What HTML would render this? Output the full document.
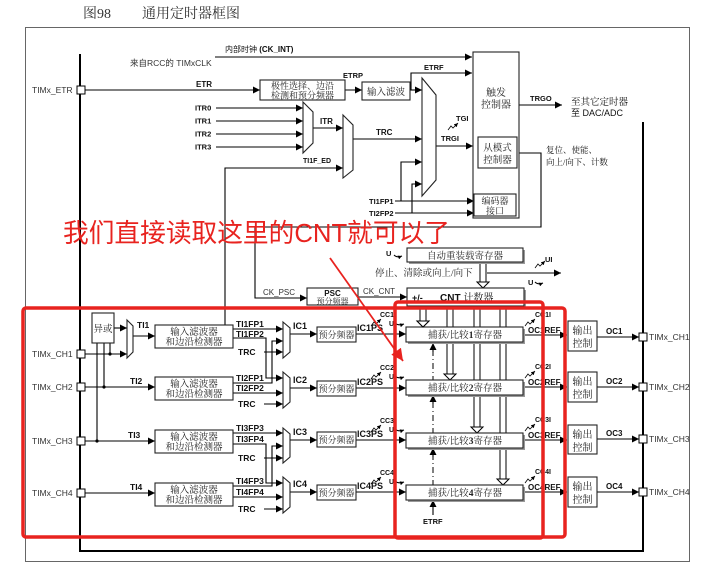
<!DOCTYPE html>
<html><head><meta charset="utf-8">
<style>
html,body{margin:0;padding:0;background:#fff;}
svg{display:block}
svg text{font-family:"Liberation Sans","Noto Sans CJK SC",sans-serif;fill:#111}
.b{font-weight:bold;font-size:8px}
.b9{font-weight:bold;font-size:9px}
.r{font-size:8.5px;fill:#333}
.c{font-family:"Liberation Serif","Noto Serif CJK SC",serif;font-size:9.5px;text-anchor:middle;fill:#222}
.l{stroke:#000;stroke-width:1.1;fill:none}
.box{stroke:#222;stroke-width:1.1;fill:#fff}
</style></head>
<body>
<svg width="717" height="567" viewBox="0 0 717 567" xmlns="http://www.w3.org/2000/svg">
<defs>
<marker id="ah" viewBox="0 0 8 8" refX="8" refY="4" markerWidth="7" markerHeight="7" markerUnits="userSpaceOnUse" orient="auto"><path d="M0,0L8,4L0,8z" fill="#000"/></marker>
<marker id="sm" viewBox="0 0 8 8" refX="8" refY="4" markerWidth="4" markerHeight="4" markerUnits="userSpaceOnUse" orient="auto"><path d="M0,0L8,4L0,8z" fill="#000"/></marker>
<marker id="rh" viewBox="0 0 10 10" refX="10" refY="5" markerWidth="12" markerHeight="12" markerUnits="userSpaceOnUse" orient="auto"><path d="M0,0L10,5L0,10z" fill="#e8231f"/></marker>
<path id="sq" d="M0,0 L3,-4 L5,-2 L10,-7" fill="none" stroke="#000" stroke-width="0.8" marker-end="url(#sm)"/>
</defs>
<rect width="717" height="567" fill="#fff"/>

<!-- title -->
<text x="83" y="18" font-size="14" style="font-family:'Liberation Serif','Noto Serif CJK SC',serif;fill:#333">图98</text>
<text x="142" y="18" font-size="14" style="font-family:'Liberation Serif','Noto Serif CJK SC',serif;fill:#333">通用定时器框图</text>

<!-- frame -->
<rect x="25.5" y="27.5" width="664" height="534" fill="none" stroke="#666" stroke-width="1"/>
<polyline points="80,54 80,551 643,551 643,122" fill="none" stroke="#000" stroke-width="2"/>

<!-- hollow shafts (drawn before registers) -->
<g stroke="#000" stroke-width="1" fill="#fff">
<rect x="420" y="306" width="6" height="16"/><polygon points="417,321 429,321 423,327"/>
<rect x="447" y="306" width="6" height="69"/><polygon points="444,374 456,374 450,380"/>
<rect x="474" y="306" width="6" height="122"/><polygon points="471,427 483,427 477,433"/>
<rect x="500" y="306" width="6" height="174"/><polygon points="497,479 509,479 503,485"/>
<rect x="480" y="262" width="6" height="21"/><polygon points="477,282 489,282 483,288"/>
</g>
<line x1="433" y1="350" x2="433" y2="485" stroke="#000" stroke-width="1" stroke-dasharray="6,3,1,3"/>

<!-- lines with arrows -->
<g class="l" marker-end="url(#ah)">
<line x1="215" y1="57" x2="472" y2="57"/>
<line x1="85" y1="90" x2="260" y2="90"/>
<line x1="345" y1="90" x2="362" y2="90"/>
<polyline points="411,90 411,73 472,73"/>
<line x1="410" y1="90" x2="422" y2="90"/>
<line x1="216" y1="108" x2="303" y2="108"/>
<line x1="216" y1="121" x2="303" y2="121"/>
<line x1="216" y1="134" x2="303" y2="134"/>
<line x1="216" y1="147" x2="303" y2="147"/>
<line x1="313" y1="128" x2="343" y2="128"/>
<polyline points="225,325 225,168 343,168"/>
<line x1="353" y1="139" x2="422" y2="139"/>
<polyline points="401,201 401,162 422,162"/>
<polyline points="412,213 412,184 422,184"/>
<line x1="395" y1="201" x2="474" y2="201"/>
<line x1="395" y1="213" x2="474" y2="213"/>
<line x1="436" y1="146" x2="473" y2="146"/>
<line x1="519" y1="105" x2="562" y2="105"/>
<polyline points="517,153 541,153 541,227 255,227 255,298 307,298"/>
<line x1="358" y1="297" x2="407" y2="297"/>
<line x1="487" y1="273" x2="561" y2="273"/>

<!-- channels input -->
<line x1="114" y1="328" x2="127" y2="328"/>
<line x1="85" y1="354" x2="127" y2="354"/>
<line x1="133" y1="336" x2="155" y2="336"/>
<line x1="85" y1="387" x2="155" y2="387"/>
<line x1="85" y1="441" x2="155" y2="441"/>
<line x1="85" y1="493" x2="155" y2="493"/>

<line x1="233" y1="329" x2="283" y2="329"/>
<polyline points="233,338 266,338 266,378 283,378"/>
<polyline points="233,383 272,383 272,341 283,341"/>
<line x1="233" y1="393" x2="283" y2="393"/>
<line x1="264" y1="352" x2="283" y2="352"/>
<line x1="264" y1="404" x2="283" y2="404"/>

<line x1="233" y1="433" x2="283" y2="433"/>
<polyline points="233,444 266,444 266,483 283,483"/>
<polyline points="233,486 272,486 272,446 283,446"/>
<line x1="233" y1="497" x2="283" y2="497"/>
<line x1="264" y1="458" x2="283" y2="458"/>
<line x1="264" y1="509" x2="283" y2="509"/>

<line x1="290" y1="334" x2="317" y2="334"/>
<line x1="290" y1="388" x2="317" y2="388"/>
<line x1="290" y1="440" x2="317" y2="440"/>
<line x1="290" y1="492" x2="317" y2="492"/>

<line x1="356" y1="334" x2="406" y2="334"/>
<line x1="356" y1="388" x2="406" y2="388"/>
<line x1="356" y1="440" x2="406" y2="440"/>
<line x1="356" y1="492" x2="406" y2="492"/>

<line x1="523" y1="335" x2="567" y2="335"/>
<line x1="523" y1="387" x2="567" y2="387"/>
<line x1="523" y1="440" x2="567" y2="440"/>
<line x1="523" y1="492" x2="567" y2="492"/>

<line x1="597" y1="337" x2="639" y2="337"/>
<line x1="597" y1="387" x2="639" y2="387"/>
<line x1="597" y1="439" x2="639" y2="439"/>
<line x1="597" y1="492" x2="639" y2="492"/>

<line x1="433" y1="352" x2="433" y2="343"/>
<line x1="433" y1="404" x2="433" y2="395"/>
<line x1="433" y1="457" x2="433" y2="448"/>
<line x1="433" y1="515" x2="433" y2="500"/>
</g>

<!-- plain lines -->
<g class="l">
<line x1="97" y1="343" x2="97" y2="441"/>
<line x1="104" y1="343" x2="104" y2="387"/>
<line x1="110" y1="343" x2="110" y2="354"/>
</g>
<g fill="#000"><circle cx="97" cy="441" r="1.6"/><circle cx="104" cy="387" r="1.6"/><circle cx="110" cy="354" r="1.6"/></g>

<!-- muxes -->
<g class="box">
<polygon points="422,78 436,95 436,180 422,196"/>
<polygon points="303,102 313,112 313,143 303,153"/>
<polygon points="343,115 353,125 353,170 343,178"/>
<polygon points="127,320 133,326 133,352 127,358"/>
<polygon points="283,322 290,328 290,352 283,358"/>
<polygon points="283,372 290,378 290,402 283,408"/>
<polygon points="283,428 290,434 290,457 283,463"/>
<polygon points="283,477 290,483 290,507 283,513"/>
</g>

<!-- boxes -->
<g class="box">
<rect x="260" y="80" width="85" height="20"/>
<rect x="362" y="82" width="48" height="18"/>
<rect x="473" y="52" width="46" height="166"/>
<rect x="478" y="137" width="39" height="31"/>
<rect x="474" y="194" width="42" height="22"/>
<rect x="307" y="288" width="51" height="17"/>
<rect x="92" y="313" width="22" height="30"/>
<rect x="155" y="325" width="78" height="23"/>
<rect x="155" y="377" width="78" height="23"/>
<rect x="155" y="430" width="78" height="23"/>
<rect x="155" y="483" width="78" height="23"/>
<rect x="317" y="327" width="39" height="15"/>
<rect x="317" y="381" width="39" height="15"/>
<rect x="317" y="432" width="39" height="15"/>
<rect x="317" y="485" width="39" height="15"/>
<rect x="568" y="321" width="29" height="30"/>
<rect x="568" y="372" width="29" height="30"/>
<rect x="568" y="425" width="29" height="29"/>
<rect x="568" y="477" width="29" height="30"/>
</g>
<!-- shadowed boxes -->
<g fill="#999">
<rect x="409" y="250" width="116" height="14"/>
<rect x="409" y="290" width="117" height="18"/>
<rect x="408" y="329" width="117" height="15"/>
<rect x="408" y="382" width="117" height="15"/>
<rect x="408" y="435" width="117" height="15"/>
<rect x="408" y="487" width="117" height="15"/>
</g>
<g class="box">
<rect x="407" y="248" width="116" height="14"/>
<rect x="407" y="288" width="117" height="18"/>
<rect x="406" y="327" width="117" height="15"/>
<rect x="406" y="380" width="117" height="15"/>
<rect x="406" y="433" width="117" height="15"/>
<rect x="406" y="485" width="117" height="15"/>
</g>
<!-- re-draw shafts inside gap below CNT so they appear on top of CNT shadow -->
<g stroke="#000" stroke-width="1" fill="#fff">
<rect x="420" y="307" width="6" height="14"/><polygon points="417,321 429,321 423,327"/>
</g>

<!-- pins -->
<g fill="#fff" stroke="#000" stroke-width="1">
<rect x="77" y="86" width="8" height="8"/>
<rect x="77" y="350" width="8" height="8"/>
<rect x="77" y="383" width="8" height="8"/>
<rect x="77" y="437" width="8" height="8"/>
<rect x="77" y="489" width="8" height="8"/>
<rect x="639" y="333" width="8" height="8"/>
<rect x="639" y="383" width="8" height="8"/>
<rect x="639" y="435" width="8" height="8"/>
<rect x="639" y="488" width="8" height="8"/>
</g>

<!-- squiggles -->
<use href="#sq" x="448" y="130"/>
<use href="#sq" x="535" y="268"/>
<use href="#sq" x="371" y="326"/>
<use href="#sq" x="371" y="379"/>
<use href="#sq" x="371" y="432"/>
<use href="#sq" x="371" y="484"/>
<use href="#sq" x="525" y="326"/>
<use href="#sq" x="525" y="378"/>
<use href="#sq" x="525" y="431"/>
<use href="#sq" x="525" y="483"/>
<g class="l" stroke-width="0.8" marker-end="url(#sm)">
<path d="M394,255 q3,3 8,1"/>
<path d="M535,282 q3,3 8,1"/>
<path d="M395,323 q3,3 9,1"/>
<path d="M395,376 q3,3 9,1"/>
<path d="M395,429 q3,3 9,1"/>
<path d="M395,481 q3,3 9,1"/>
</g>

<!-- labels top -->
<text x="32" y="93" class="r">TIMx_ETR</text>
<text x="225" y="52" style="font-size:8px">内部时钟 <tspan font-weight="bold">(CK_INT)</tspan></text>
<text x="130" y="66" style="font-size:8.5px;fill:#333">来自RCC的 TIMxCLK</text>
<text x="196" y="87" class="b">ETR</text>
<text x="302.5" y="89" class="c" style="font-size:9px">极性选择、边沿</text>
<text x="302.5" y="98.5" class="c" style="font-size:9px">检测和预分频器</text>
<text x="343" y="78" class="b" style="font-size:7.5px">ETRP</text>
<text x="386" y="95" class="c">输入滤波</text>
<text x="424" y="70" class="b" style="font-size:7.5px">ETRF</text>
<text x="195" y="110.5" class="b" style="font-size:7.5px">ITR0</text>
<text x="195" y="123.5" class="b" style="font-size:7.5px">ITR1</text>
<text x="195" y="136.5" class="b" style="font-size:7.5px">ITR2</text>
<text x="195" y="149.5" class="b" style="font-size:7.5px">ITR3</text>
<text x="320" y="124" class="b">ITR</text>
<text x="303" y="163" class="b" style="font-size:7px">TI1F_ED</text>
<text x="376" y="135" class="b">TRC</text>
<text x="441" y="141" class="b" style="font-size:7.5px">TRGI</text>
<text x="456" y="121" class="b" style="font-size:7.5px">TGI</text>
<text x="496" y="96" class="c" style="font-size:10px">触发</text>
<text x="496" y="108" class="c" style="font-size:10px">控制器</text>
<text x="497.5" y="151" class="c">从模式</text>
<text x="497.5" y="163" class="c">控制器</text>
<text x="495" y="204" class="c" style="font-size:9px">编码器</text>
<text x="495" y="214" class="c" style="font-size:9px">接口</text>
<text x="369" y="204" class="b" style="font-size:7.5px">TI1FP1</text>
<text x="369" y="216" class="b" style="font-size:7.5px">TI2FP2</text>
<text x="530" y="101" class="b" style="font-size:7.5px">TRGO</text>
<text x="571" y="105" style="font-size:9.5px;font-family:'Liberation Serif','Noto Serif CJK SC',serif">至其它定时器</text>
<text x="571" y="116" style="font-size:9px">至 DAC/ADC</text>
<text x="546" y="153" style="font-size:8.5px;font-family:'Liberation Serif','Noto Serif CJK SC',serif">复位、使能、</text>
<text x="546" y="165" style="font-size:8.5px;font-family:'Liberation Serif','Noto Serif CJK SC',serif">向上/向下、计数</text>
<text x="386" y="256" class="b" style="font-size:7.5px">U</text>
<text x="465" y="259" class="c">自动重装载寄存器</text>
<text x="375" y="276" style="font-size:9.5px;font-family:'Liberation Serif','Noto Serif CJK SC',serif;fill:#222">停止、清除或向上/向下</text>
<text x="545" y="262" class="b" style="font-size:7.5px">UI</text>
<text x="528" y="285" class="b" style="font-size:7.5px">U</text>
<text x="263" y="295" style="font-size:8px;fill:#333">CK_PSC</text>
<text x="332.5" y="296" class="b" style="font-size:8px;text-anchor:middle">PSC</text>
<text x="332.5" y="304" class="c" style="font-size:8px">预分频器</text>
<text x="363" y="294" style="font-size:8px;fill:#333">CK_CNT</text>
<text x="412" y="301" class="b9">+/-</text>
<text x="440" y="301" class="b9" style="font-size:10px">CNT <tspan style="font-weight:normal;font-family:'Liberation Serif','Noto Serif CJK SC',serif">计数器</tspan></text>

<!-- channel labels -->
<text x="32" y="357" class="r">TIMx_CH1</text>
<text x="32" y="390" class="r">TIMx_CH2</text>
<text x="32" y="444" class="r">TIMx_CH3</text>
<text x="32" y="496" class="r">TIMx_CH4</text>
<text x="103" y="332" class="c">异或</text>
<text x="137" y="328" class="b" style="font-size:8.5px">TI1</text>
<text x="130" y="384" class="b" style="font-size:8.5px">TI2</text>
<text x="128" y="438" class="b" style="font-size:8.5px">TI3</text>
<text x="130" y="490" class="b" style="font-size:8.5px">TI4</text>

<text x="194" y="335" class="c">输入滤波器</text><text x="194" y="345" class="c">和边沿检测器</text>
<text x="194" y="387" class="c">输入滤波器</text><text x="194" y="397" class="c">和边沿检测器</text>
<text x="194" y="440" class="c">输入滤波器</text><text x="194" y="450" class="c">和边沿检测器</text>
<text x="194" y="493" class="c">输入滤波器</text><text x="194" y="503" class="c">和边沿检测器</text>

<g class="b" style="font-size:8.5px">
<text x="236" y="327">TI1FP1</text><text x="236" y="337">TI1FP2</text><text x="238" y="355">TRC</text>
<text x="236" y="381">TI2FP1</text><text x="236" y="391">TI2FP2</text><text x="238" y="407">TRC</text>
<text x="236" y="431">TI3FP3</text><text x="236" y="442">TI3FP4</text><text x="238" y="461">TRC</text>
<text x="236" y="484">TI4FP3</text><text x="236" y="495">TI4FP4</text><text x="238" y="512">TRC</text>
</g>
<g class="b9">
<text x="293" y="329">IC1</text><text x="293" y="383">IC2</text><text x="293" y="435">IC3</text><text x="293" y="487">IC4</text>
<text x="357" y="331">IC1PS</text><text x="357" y="385">IC2PS</text><text x="357" y="437">IC3PS</text><text x="357" y="489">IC4PS</text>
</g>
<text x="336.5" y="338" class="c" style="font-size:9px">预分频器</text>
<text x="336.5" y="392" class="c" style="font-size:9px">预分频器</text>
<text x="336.5" y="443" class="c" style="font-size:9px">预分频器</text>
<text x="336.5" y="496" class="c" style="font-size:9px">预分频器</text>

<g class="b" style="font-size:7px">
<text x="380" y="317">CC1I</text><text x="380" y="370">CC2I</text><text x="380" y="423">CC3I</text><text x="380" y="475">CC4I</text>
<text x="389" y="326">U</text><text x="389" y="379">U</text><text x="389" y="432">U</text><text x="389" y="484">U</text>
<text x="535" y="317">CC1I</text><text x="535" y="369">CC2I</text><text x="535" y="422">CC3I</text><text x="535" y="474">CC4I</text>
</g>
<text x="465" y="338" class="c">捕获/比较<tspan font-weight="bold">1</tspan>寄存器</text>
<text x="465" y="391" class="c">捕获/比较<tspan font-weight="bold">2</tspan>寄存器</text>
<text x="465" y="444" class="c">捕获/比较<tspan font-weight="bold">3</tspan>寄存器</text>
<text x="465" y="496" class="c">捕获/比较<tspan font-weight="bold">4</tspan>寄存器</text>
<text x="423" y="524" class="b" style="font-size:7.5px">ETRF</text>

<g class="b" style="font-size:8px">
<text x="528" y="333">OC1REF</text><text x="528" y="385">OC2REF</text><text x="528" y="438">OC3REF</text><text x="528" y="490">OC4REF</text>
<text x="606" y="334">OC1</text><text x="606" y="384">OC2</text><text x="606" y="436">OC3</text><text x="606" y="489">OC4</text>
</g>
<text x="582.5" y="334" class="c" style="font-size:10px">输出</text><text x="582.5" y="347" class="c" style="font-size:10px">控制</text>
<text x="582.5" y="385" class="c" style="font-size:10px">输出</text><text x="582.5" y="398" class="c" style="font-size:10px">控制</text>
<text x="582.5" y="438" class="c" style="font-size:10px">输出</text><text x="582.5" y="451" class="c" style="font-size:10px">控制</text>
<text x="582.5" y="490" class="c" style="font-size:10px">输出</text><text x="582.5" y="503" class="c" style="font-size:10px">控制</text>
<text x="649" y="340" class="r">TIMx_CH1</text>
<text x="649" y="390" class="r">TIMx_CH2</text>
<text x="649" y="442" class="r">TIMx_CH3</text>
<text x="649" y="495" class="r">TIMx_CH4</text>

<!-- red annotations -->
<g fill="none" stroke="#e8231f" stroke-width="3.5">
<rect x="23" y="308" width="542" height="229" rx="3"/>
<rect x="395" y="302" width="148" height="236" rx="3"/>
</g>
<line x1="330" y1="258" x2="403" y2="361" stroke="#e8231f" stroke-width="1.8" marker-end="url(#rh)"/>
<text x="63" y="242" textLength="387" lengthAdjust="spacingAndGlyphs" style="font-size:26px;fill:#e8231f;font-family:'Liberation Sans','Noto Sans CJK SC',sans-serif">我们直接读取这里的CNT就可以了</text>
</svg>
</body></html>
